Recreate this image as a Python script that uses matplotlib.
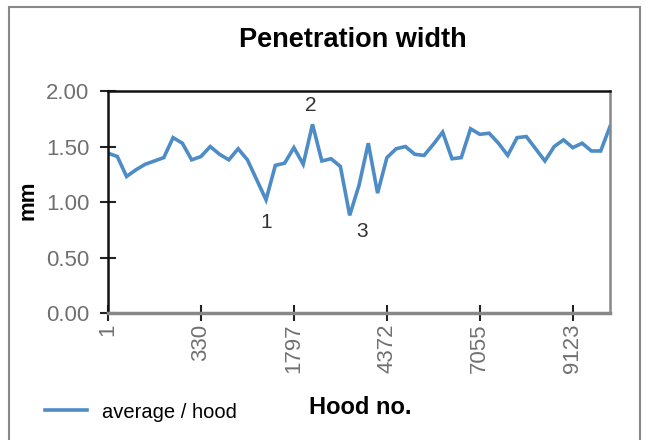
import matplotlib
matplotlib.use("Agg")
import matplotlib.pyplot as plt
from matplotlib.patches import Rectangle

plt.rcParams['font.family'] = ['Liberation Sans', 'DejaVu Sans']

# average penetration width per hood (mm)
width_mm = [1.44, 1.41, 1.23, 1.29, 1.34, 1.37, 1.40, 1.58, 1.53, 1.38,
            1.41, 1.50, 1.43, 1.38, 1.48, 1.38, 1.20, 1.02, 1.33, 1.35,
            1.49, 1.34, 1.70, 1.37, 1.39, 1.32, 0.88, 1.15, 1.53, 1.08,
            1.40, 1.48, 1.50, 1.43, 1.42, 1.52, 1.63, 1.39, 1.40, 1.66,
            1.61, 1.62, 1.53, 1.42, 1.58, 1.59, 1.48, 1.37, 1.50, 1.56,
            1.49, 1.53, 1.46, 1.46, 1.68]
hood_labels = ['1', '330', '1797', '4372', '7055', '9123']
hood_label_pos = [0, 10, 20, 30, 40, 50]
y_ticks = [0.0, 0.5, 1.0, 1.5, 2.0]

# numbered call-outs: (label, x index, y value)
callouts = [('1', 17, 0.82), ('2', 21.8, 1.87), ('3', 27.3, 0.73)]

line_color = '#4d8cc6'
tick_gray = '#707070'

fig = plt.figure(figsize=(6.49, 4.40), dpi=100)
ax = fig.add_axes([0.1664, 0.2886, 0.7735, 0.5045])

x = list(range(len(width_mm)))
line, = ax.plot(x, width_mm, color=line_color, lw=2.6, solid_joinstyle='miter')

for txt, xi, yv in callouts:
    ax.text(xi, yv, txt, ha='center', va='center', fontsize=15, color='#333333')

ax.set_xlim(0, len(width_mm) - 1)
ax.set_ylim(0, 2)
ax.set_yticks(y_ticks)
ax.set_yticklabels(['%.2f' % v for v in y_ticks])
ax.set_xticks(hood_label_pos)
ax.set_xticklabels(hood_labels, rotation=90)

ax.tick_params(axis='both', direction='inout', length=11, width=1.5,
               color='#222222', labelcolor=tick_gray, labelsize=16)
ax.tick_params(axis='y', pad=8)
ax.tick_params(axis='x', pad=2)

for side in ['left', 'top']:
    ax.spines[side].set_color('#111111')
    ax.spines[side].set_linewidth(1.8)
ax.spines['right'].set_color('#888888')
ax.spines['right'].set_linewidth(1.8)
ax.spines['bottom'].set_color('#888888')
ax.spines['bottom'].set_linewidth(2.5)

fig.text(353 / 649, 1 - 40 / 440, 'Penetration width', ha='center', va='center',
         fontsize=19.5, fontweight='bold')
fig.text(28 / 649, 1 - 200 / 440, 'mm', ha='center', va='center', rotation=90,
         fontsize=16, fontweight='bold')
fig.text(360 / 649, 1 - 407 / 440, 'Hood no.', ha='center', va='center',
         fontsize=17, fontweight='bold')

fig.legend([line], ['average / hood'], loc='center left',
           bbox_to_anchor=(45 / 649, 1 - 412 / 440), frameon=False,
           borderpad=0, borderaxespad=0, handlelength=2.1, handletextpad=0.75,
           fontsize=14.5)

# outer frame around the whole chart
fig.patches.append(Rectangle((9 / 649, -0.05), 631 / 649, 1.05 - 7 / 440,
                             transform=fig.transFigure, fill=False,
                             edgecolor='#888888', lw=1.5))

fig.savefig('out.png', dpi=100)
